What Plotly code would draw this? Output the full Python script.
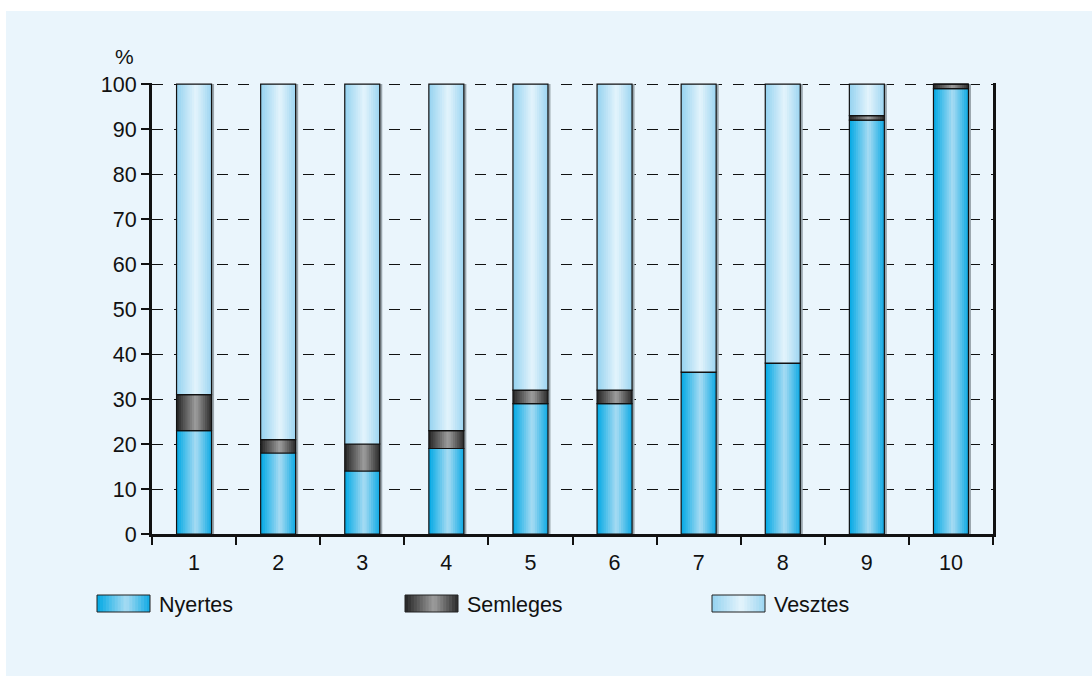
import plotly.graph_objects as go

categories = ["1", "2", "3", "4", "5", "6", "7", "8", "9", "10"]
nyertes = [23, 18, 14, 19, 29, 29, 36, 38, 92, 99]
semleges = [8, 3, 6, 4, 3, 3, 0, 0, 1, 1]
vesztes = [69, 79, 80, 77, 68, 68, 64, 62, 7, 0]
series_names = ["Nyertes", "Semleges", "Vesztes"]
y_ticks = [0, 10, 20, 30, 40, 50, 60, 70, 80, 90, 100]

# gradient profiles (left edge, highlight, right edge)
gradients = {
    "Nyertes": [(0.0, (0, 168, 228)), (0.55, (168, 220, 243)), (1.0, (14, 170, 228))],
    "Semleges": [(0.0, (36, 36, 36)), (0.55, (158, 158, 158)), (1.0, (42, 42, 42))],
    "Vesztes": [(0.0, (148, 210, 240)), (0.55, (228, 244, 252)), (1.0, (156, 213, 241))],
}

BG = "#EAF5FC"
FONT = "Arial, Liberation Sans, sans-serif"


def interp(stops, t):
    for (t0, c0), (t1, c1) in zip(stops[:-1], stops[1:]):
        if t0 <= t <= t1:
            f = (t - t0) / (t1 - t0)
            c = [round(a + (b - a) * f) for a, b in zip(c0, c1)]
            return "rgb(%d,%d,%d)" % tuple(c)
    c = stops[-1][1]
    return "rgb(%d,%d,%d)" % c


values = {"Nyertes": nyertes, "Semleges": semleges, "Vesztes": vesztes}
bases = {
    "Nyertes": [0] * len(categories),
    "Semleges": list(nyertes),
    "Vesztes": [a + b for a, b in zip(nyertes, semleges)],
}
totals = [a + b + c for a, b, c in zip(nyertes, semleges, vesztes)]

W = 0.416
N = 16
sw = W / N

fig = go.Figure()

# soft shadow on the right side of each column
fig.add_trace(go.Bar(
    x=categories, y=totals, base=[0] * len(categories), width=W, offset=-W / 2 + 0.03,
    marker=dict(color="#9AA6AD", line=dict(width=0)), showlegend=False, hoverinfo="skip",
))

for name in series_names:
    for j in range(N):
        t = (j + 0.5) / N
        fig.add_trace(go.Bar(
            x=categories, y=values[name], base=bases[name],
            width=sw * 1.35 if j < N - 1 else sw, offset=-W / 2 + j * sw,
            marker=dict(color=interp(gradients[name], t), line=dict(width=0)),
            showlegend=False, hoverinfo="skip",
        ))
    # outline of each segment
    fig.add_trace(go.Bar(
        x=categories, y=values[name], base=bases[name], width=W, offset=-W / 2,
        marker=dict(color="rgba(0,0,0,0)", line=dict(color="#111111", width=1.2)),
        name=name, showlegend=False,
    ))

# plot area pixel geometry (for legend decorations)
L, R, T, B = 152, 993, 83, 534
Y_TOP = 100.25


def px(xp):
    return (xp - L) / (R - L)


def py(yp):
    return (B - yp) / (B - T)


shapes = [dict(type="rect", xref="paper", yref="paper", x0=px(6), x1=px(1100), y0=py(11), y1=py(700),
               fillcolor=BG, line=dict(width=0), layer="below")]
annotations = []
legend_x = {"Nyertes": 97, "Semleges": 405, "Vesztes": 712}
box_w, ny = 53, 18
for name in series_names:
    x0 = legend_x[name]
    for j in range(ny):
        t = (j + 0.5) / ny
        shapes.append(dict(type="rect", xref="paper", yref="paper",
                           x0=px(x0 + j * box_w / ny), x1=px(x0 + (j + 1.3) * box_w / ny if j < ny - 1 else x0 + box_w),
                           y0=py(612), y1=py(595), fillcolor=interp(gradients[name], t), line=dict(width=0)))
    shapes.append(dict(type="rect", xref="paper", yref="paper", x0=px(x0), x1=px(x0 + box_w),
                       y0=py(612), y1=py(595), fillcolor="rgba(0,0,0,0)", line=dict(color="#222222", width=1)))
    annotations.append(dict(xref="paper", yref="paper", x=px(x0 + box_w + 7), y=py(605), text=name,
                            showarrow=False, xanchor="left", yanchor="middle",
                            font=dict(family=FONT, size=21.5, color="#111111")))

annotations.append(dict(xref="paper", yref="paper", x=px(124), y=py(56), text="%", showarrow=False,
                        xanchor="center", yanchor="middle", font=dict(family=FONT, size=21, color="#111111")))

fig.update_layout(
    width=1092, height=676,
    margin=dict(l=L, r=1092 - R, t=T, b=676 - B),
    paper_bgcolor="white", plot_bgcolor=BG,
    barmode="overlay", showlegend=False,
    shapes=shapes, annotations=annotations,
    font=dict(family=FONT, size=21.5, color="#111111"),
)
fig.update_xaxes(
    type="category", categoryorder="array", categoryarray=categories,
    tickson="boundaries", ticks="outside", ticklen=8, tickwidth=2, tickcolor="#111111",
    showline=True, linewidth=3, linecolor="#111111", showgrid=False, mirror=False,
    tickfont=dict(family=FONT, size=21.5, color="#111111"), ticklabelstandoff=7,
)
fig.update_yaxes(
    range=[0, Y_TOP], tickvals=y_ticks, ticks="outside", ticklen=8, tickwidth=2, tickcolor="#111111",
    showline=True, linewidth=3, linecolor="#111111", mirror=True,
    showgrid=True, gridcolor="#111111", gridwidth=1.2, griddash="11px,10.5px",
    zeroline=False, tickfont=dict(family=FONT, size=21.5, color="#111111"),
)

fig.write_html("out.html")
